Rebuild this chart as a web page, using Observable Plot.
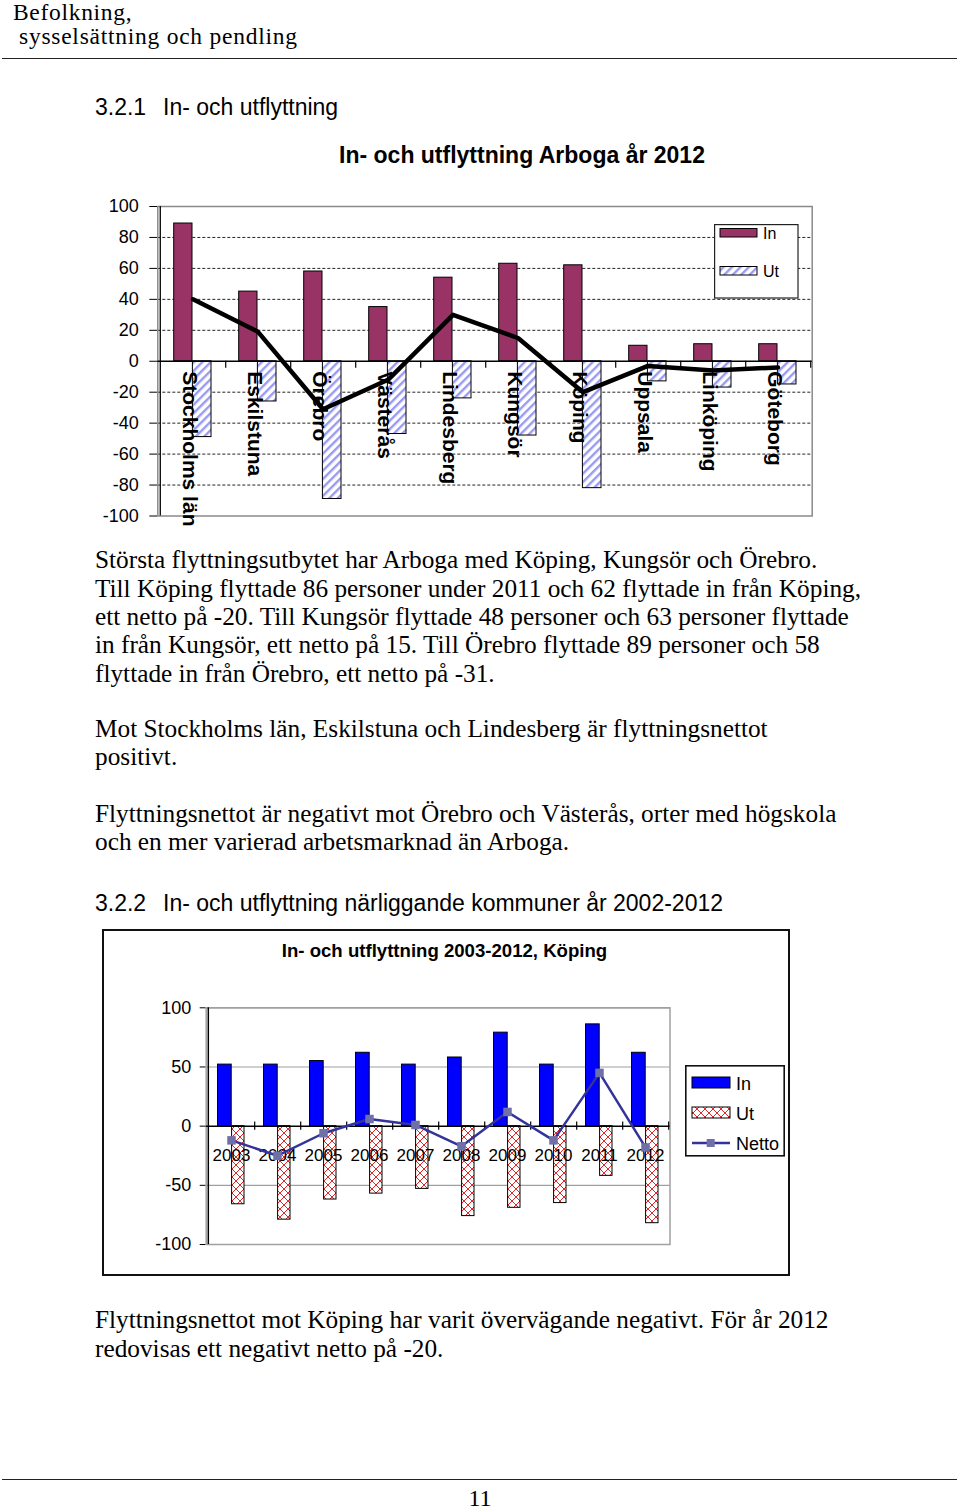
<!DOCTYPE html>
<html>
<head>
<meta charset="utf-8">
<script src="https://cdn.jsdelivr.net/npm/d3@7"></script>
<script src="https://cdn.jsdelivr.net/npm/@observablehq/plot@0.6"></script>
<style>
  body { margin: 0; background: #fff; }
  #page { position: relative; width: 960px; height: 1510px; overflow: hidden; background: #fff; }
  .t { position: absolute; white-space: nowrap; line-height: 1; color: #000; }
  .serif { font-family: "Liberation Serif", "Times New Roman", serif; }
  .sans { font-family: "Liberation Sans", Arial, sans-serif; }
  .abs { position: absolute; }
</style>
</head>
<body>
<svg width="0" height="0" style="position:absolute">
  <defs>
    <pattern id="stripes" patternUnits="userSpaceOnUse" width="6" height="6" patternTransform="rotate(45)">
      <rect width="6" height="6" fill="#ffffff"/>
      <rect width="2.4" height="6" fill="#9a9af0"/>
    </pattern>
    <pattern id="cross" patternUnits="userSpaceOnUse" width="8" height="8">
      <rect width="8" height="8" fill="#ffffff"/>
      <path d="M0,0L8,8M8,0L0,8" stroke="#e02828" stroke-width="1"/>
    </pattern>
  </defs>
</svg>
<div id="page"></div>
<script>
// ---------- Chart 1 data: In- och utflyttning Arboga år 2012 ----------
const cats1 = ["Stockholms län", "Eskilstuna", "Örebro", "Västerås", "Lindesberg", "Kungsör", "Köping", "Uppsala", "Linköping", "Göteborg"];
const in1   = [89, 45, 58, 35, 54, 63, 62, 10, 11, 11];
const ut1   = [-49, -26, -89, -47, -24, -48, -82, -13, -17, -15];
const net1  = [40, 19, -31, -12, 30, 15, -20, -3, -6, -4];
const ticks1 = [-100, -80, -60, -40, -20, 0, 20, 40, 60, 80, 100];
const grid1  = [-80, -60, -40, -20, 20, 40, 60, 80];

// ---------- Chart 2 data: In- och utflyttning 2003-2012, Köping ----------
const years2 = ["2003", "2004", "2005", "2006", "2007", "2008", "2009", "2010", "2011", "2012"];
const in2    = [52, 52, 55, 62, 52, 58, 79, 52, 86, 62];
const ut2    = [-66, -79, -62, -57, -53, -76, -69, -65, -42, -82];
const net2   = [-12, -25, -6, 6, 1, -17, 12, -12, 45, -18];
const ticks2 = [-100, -50, 0, 50, 100];
const grid2  = [-100, -50, 50, 100];

// ---------- Page text ----------
const header = ["Befolkning,", "sysselsättning och pendling"];
const sec1 = ["3.2.1", "In- och utflyttning"];
const sec2 = ["3.2.2", "In- och utflyttning närliggande kommuner år 2002-2012"];
const para1 = [
  "Största flyttningsutbytet har Arboga med Köping, Kungsör och Örebro.",
  "Till Köping flyttade 86 personer under 2011 och 62 flyttade in från Köping,",
  "ett netto på -20. Till Kungsör flyttade 48 personer och 63 personer flyttade",
  "in från Kungsör, ett netto på 15. Till Örebro flyttade 89 personer och 58",
  "flyttade in från Örebro, ett netto på -31."
];
const para2 = ["Mot Stockholms län, Eskilstuna och Lindesberg är flyttningsnettot", "positivt."];
const para3 = ["Flyttningsnettot är negativt mot Örebro och Västerås, orter med högskola", "och en mer varierad arbetsmarknad än Arboga."];
const para4 = ["Flyttningsnettot mot Köping har varit övervägande negativt. För år 2012", "redovisas ett negativt netto på -20."];
const title1 = "In- och utflyttning Arboga år 2012";
const title2 = "In- och utflyttning 2003-2012, Köping";
const pageNo = "11";

const page = document.getElementById("page");

function addText(txt, x, baseline, size, family, opts = {}) {
  const d = document.createElement("div");
  d.className = "t " + family;
  d.textContent = txt;
  const f = family === "serif" ? 0.8375 : 0.8465;
  d.style.fontSize = size + "px";
  d.style.left = x + "px";
  d.style.top = (baseline - f * size) + "px";
  if (opts.bold) d.style.fontWeight = "bold";
  if (opts.center) d.style.transform = "translateX(-50%)";
  if (opts.ls) d.style.letterSpacing = opts.ls + "px";
  page.appendChild(d);
  return d;
}
function addRule(y) {
  const d = document.createElement("div");
  d.className = "abs";
  Object.assign(d.style, {left: "2px", top: y + "px", width: "955px", height: "1.3px", background: "#222"});
  page.appendChild(d);
}

// header
addText(header[0], 13, 21, 23.5, "serif", {ls: 0.7});
addText(header[1], 19, 45, 23.5, "serif", {ls: 0.75});
addRule(58);
addRule(1479);
addText(pageNo, 480, 1506.5, 24, "serif", {center: true});

// section headings
addText(sec1[0], 95, 115, 23, "sans");
addText(sec1[1], 163, 115, 23, "sans");
addText(sec2[0], 95, 911, 23, "sans");
addText(sec2[1], 163, 911, 23, "sans");

// paragraphs
const bs1 = [568.3, 596.7, 625, 653.3, 681.7];
para1.forEach((l, i) => addText(l, 95, bs1[i], 25.3, "serif"));
[736.7, 765].forEach((b, i) => addText(para2[i], 95, b, 25.3, "serif"));
[821.7, 850].forEach((b, i) => addText(para3[i], 95, b, 25.3, "serif"));
[1328.5, 1357].forEach((b, i) => addText(para4[i], 95, b, 25.3, "serif"));

// ---------- Chart 1 ----------
const d1 = cats1.map((c, i) => ({cat: c, in: in1[i], ut: ut1[i], net: net1[i]}));
const L1 = 157.3, R1 = 811.7, T1 = 206, B1 = 515.5, top1 = 130, h1 = 410;
const bw1 = (R1 - L1) / cats1.length;
const chart1 = Plot.plot({
  width: 960, height: h1,
  marginLeft: L1, marginRight: 960 - R1, marginTop: T1 - top1, marginBottom: top1 + h1 - B1,
  style: {background: "transparent", fontFamily: "'Liberation Sans', Arial, sans-serif", fontSize: "18px", color: "#000", overflow: "visible"},
  x: {type: "band", domain: cats1, padding: 0, axis: null},
  y: {domain: [-100, 100], ticks: ticks1, tickSize: 8, tickPadding: 11, tickFormat: d => String(d), label: null},
  marks: [
    Plot.ruleY(grid1, {stroke: "#222", strokeWidth: 1, strokeDasharray: "3,2"}),
    Plot.frame({stroke: "#8a8a8a", strokeWidth: 1.5}),
    Plot.barY(d1, {x: "cat", y: "in", fill: "#993366", stroke: "#000", strokeWidth: 1, insetLeft: 13.7, insetRight: 33}),
    Plot.barY(d1, {x: "cat", y: "ut", fill: "url(#stripes)", stroke: "#000", strokeWidth: 1, insetLeft: 32.4, insetRight: 14}),
    Plot.ruleY([0], {stroke: "#000", strokeWidth: 1.3}),
    Plot.ruleX(cats1, {x: d => d, y1: 0, y2: -4.5, dx: bw1 / 2, stroke: "#000", strokeWidth: 1.2}),
    Plot.ruleX([cats1[0]], {x: d => d, y1: -100, y2: 100, dx: -bw1 / 2, stroke: "#000", strokeWidth: 1.3}),
    Plot.text(d1, {x: "cat", y: 0, text: "cat", rotate: 90, textAnchor: "start", dy: 10, dx: -3, fontSize: 21, fontWeight: "bold", fill: "#000"}),
    Plot.lineY(d1, {x: "cat", y: "net", stroke: "#000", strokeWidth: 4.5})
  ]
});
chart1.style.position = "absolute";
chart1.style.left = "0px";
chart1.style.top = top1 + "px";
page.appendChild(chart1);
addText(title1, 522, 163.5, 23, "sans", {bold: true, center: true});

// legend 1
const leg1 = document.createElementNS("http://www.w3.org/2000/svg", "svg");
leg1.setAttribute("width", 86); leg1.setAttribute("height", 76);
leg1.style.position = "absolute"; leg1.style.left = "714px"; leg1.style.top = "224px";
leg1.innerHTML = `
  <rect x="0.6" y="0.6" width="83.4" height="73.4" fill="#fff" stroke="#222" stroke-width="1.2"/>
  <rect x="6" y="4.5" width="37" height="8.5" fill="#993366" stroke="#000"/>
  <text x="49" y="14.5" font-family="Liberation Sans, Arial, sans-serif" font-size="16">In</text>
  <rect x="6" y="42.5" width="37" height="8.5" fill="url(#stripes)" stroke="#000"/>
  <text x="49" y="52.5" font-family="Liberation Sans, Arial, sans-serif" font-size="16">Ut</text>`;
page.appendChild(leg1);

// ---------- Chart 2 ----------
const frame2 = document.createElement("div");
frame2.className = "abs";
Object.assign(frame2.style, {left: "102px", top: "929px", width: "688px", height: "347px", border: "2px solid #111", boxSizing: "border-box"});
page.appendChild(frame2);
addText(title2, 444.5, 957.5, 18.6, "sans", {bold: true, center: true});

const d2 = years2.map((y, i) => ({year: y, in: in2[i], ut: ut2[i], net: net2[i]}));
const L2 = 205.7, R2 = 669.5, T2 = 1007.3, B2 = 1244, top2 = 985, h2 = 280;
const bw2 = (R2 - L2) / years2.length;
const chart2 = Plot.plot({
  width: 960, height: h2,
  marginLeft: L2, marginRight: 960 - R2, marginTop: T2 - top2, marginBottom: top2 + h2 - B2,
  style: {background: "transparent", fontFamily: "'Liberation Sans', Arial, sans-serif", fontSize: "18px", color: "#000", overflow: "visible"},
  x: {type: "band", domain: years2, padding: 0, axis: null},
  y: {domain: [-100, 100], ticks: ticks2, tickSize: 6, tickPadding: 9, tickFormat: d => String(d), label: null},
  marks: [
    Plot.ruleY(grid2, {stroke: "#a0a0a0", strokeWidth: 1.2}),
    Plot.frame({stroke: "#a0a0a0", strokeWidth: 1.5}),
    Plot.barY(d2, {x: "year", y: "in", fill: "#0000ff", stroke: "#000", strokeWidth: 1, insetLeft: 9.5, insetRight: 22.8}),
    Plot.barY(d2, {x: "year", y: "ut", fill: "url(#cross)", stroke: "#000", strokeWidth: 1, insetLeft: 23.6, insetRight: 10}),
    Plot.ruleY([0], {stroke: "#000", strokeWidth: 1.5}),
    Plot.ruleX(years2, {x: d => d, y1: 3.5, y2: -3.5, dx: bw2 / 2, stroke: "#000", strokeWidth: 1.2}),
    Plot.ruleX([years2[0]], {x: d => d, y1: -100, y2: 100, dx: -bw2 / 2, stroke: "#000", strokeWidth: 1.5}),
    Plot.text(d2, {x: "year", y: 0, text: "year", dy: 29.5, fontSize: 17, fill: "#000"}),
    Plot.lineY(d2, {x: "year", y: "net", stroke: "#333399", strokeWidth: 2.5}),
    Plot.dot(d2, {x: "year", y: "net", symbol: "square", r: 4.8, fill: "#7070a8", stroke: "none"})
  ]
});
chart2.style.position = "absolute";
chart2.style.left = "0px";
chart2.style.top = top2 + "px";
page.appendChild(chart2);

// legend 2
const leg2 = document.createElementNS("http://www.w3.org/2000/svg", "svg");
leg2.setAttribute("width", 101); leg2.setAttribute("height", 93);
leg2.style.position = "absolute"; leg2.style.left = "685px"; leg2.style.top = "1065px";
leg2.innerHTML = `
  <rect x="0.8" y="0.8" width="98.4" height="90" fill="#fff" stroke="#111" stroke-width="1.6"/>
  <rect x="7" y="12" width="38" height="11" fill="#0000ff" stroke="#000"/>
  <text x="51" y="24.5" font-family="Liberation Sans, Arial, sans-serif" font-size="18">In</text>
  <rect x="7" y="42" width="38" height="11" fill="url(#cross)" stroke="#000"/>
  <text x="51" y="54.5" font-family="Liberation Sans, Arial, sans-serif" font-size="18">Ut</text>
  <line x1="7" x2="45" y1="78" y2="78" stroke="#333399" stroke-width="2.5"/>
  <rect x="21.7" y="74" width="8" height="8" fill="#7070a8"/>
  <text x="51" y="84.5" font-family="Liberation Sans, Arial, sans-serif" font-size="18">Netto</text>`;
page.appendChild(leg2);
</script>
</body>
</html>
